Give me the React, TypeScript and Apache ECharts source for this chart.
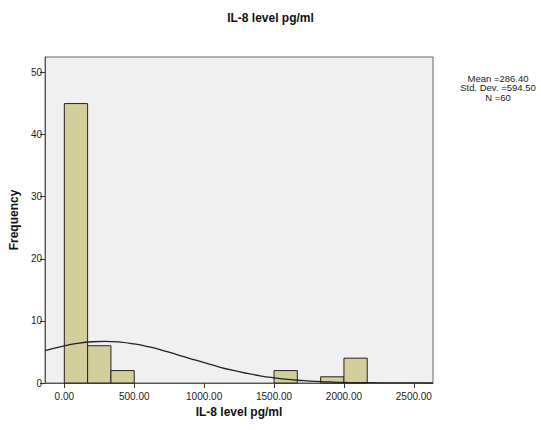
import React, { useEffect, useRef } from "react";
import * as echarts from "echarts";

const title = "IL-8 level pg/ml";
const xTitle = "IL-8 level pg/ml";
const yTitle = "Frequency";
// histogram bins: [start, end, count]
const binStarts = [0, 166.67, 333.33, 1500, 1833.33, 2000];
const binEnds = [166.67, 333.33, 500, 1666.67, 2000, 2166.67];
const binCounts = [45, 6, 2, 2, 1, 4];
// normal curve points
const curveX = [-138, 0, 100, 200, 286, 400, 500, 600, 700, 800, 900, 1000, 1100, 1200, 1300, 1400, 1500, 1600, 1700, 1800, 1900, 2000, 2100, 2200, 2300, 2400, 2500, 2637];
const curveY = [5.2, 5.98, 6.39, 6.64, 6.71, 6.59, 6.29, 5.84, 5.27, 4.62, 3.94, 3.27, 2.63, 2.06, 1.57, 1.16, 0.84, 0.58, 0.4, 0.26, 0.17, 0.1, 0.06, 0.04, 0.02, 0.01, 0.006, 0.003];
const xTicks = [0, 500, 1000, 1500, 2000, 2500];
const yTicks = [0, 10, 20, 30, 40, 50];
const statsLines = ["Mean =286.40", "Std. Dev. =594.50", "N =60"];

export default function App() {
  const ref = useRef<HTMLDivElement>(null);
  useEffect(() => {
    document.body.style.margin = "0";
    const chart = echarts.init(ref.current!, null, { renderer: "svg" });
    const font = "Liberation Sans, Arial, sans-serif";
    const bins = binStarts.map((s, i) => [s, binEnds[i], binCounts[i]]);
    chart.setOption({
      animation: false,
      backgroundColor: "#ffffff",
      title: {
        text: title,
        left: "center",
        top: 7,
        textStyle: { fontFamily: font, fontSize: 12, fontWeight: "bold", color: "#111" },
      },
      grid: {
        left: 45,
        right: 108,
        top: 57,
        bottom: 47,
        show: true,
        backgroundColor: "#f0f0f0",
        borderColor: "#666",
        borderWidth: 1,
      },
      xAxis: {
        type: "value",
        min: -138,
        max: 2637,
        name: xTitle,
        nameLocation: "middle",
        nameGap: 18,
        nameTextStyle: { fontFamily: font, fontSize: 12, fontWeight: "bold", color: "#111" },
        axisLine: { show: true, onZero: false, lineStyle: { color: "#555" } },
        axisTick: { show: true, length: 5, customValues: xTicks, lineStyle: { color: "#333" } },
        axisLabel: {
          customValues: xTicks,
          formatter: (v: number) => v.toFixed(2),
          fontFamily: font,
          fontSize: 10,
          color: "#222",
          margin: 8,
        },
        splitLine: { show: false },
      },
      yAxis: {
        type: "value",
        min: 0,
        max: 52.5,
        name: yTitle,
        nameLocation: "middle",
        nameRotate: 90,
        nameGap: 19,
        nameTextStyle: { fontFamily: font, fontSize: 12, fontWeight: "bold", color: "#111" },
        axisLine: { show: true, onZero: false, lineStyle: { color: "#555" } },
        axisTick: { show: true, length: 5, customValues: yTicks, lineStyle: { color: "#333" } },
        axisLabel: {
          customValues: yTicks,
          fontFamily: font,
          fontSize: 10,
          color: "#222",
          margin: 3,
        },
        splitLine: { show: false },
      },
      graphic: statsLines.map((line, i) => ({
        type: "text",
        x: 498,
        y: 73 + i * 9.5,
        style: {
          text: line,
          fontFamily: font,
          fontSize: 9.5,
          fill: "#222",
          align: "center",
          verticalAlign: "top",
        },
      })),
      series: [
        {
          type: "custom",
          data: bins,
          encode: { x: [0, 1], y: 2 },
          renderItem: (params: any, api: any) => {
            const p0 = api.coord([api.value(0), 0]);
            const p1 = api.coord([api.value(1), api.value(2)]);
            return {
              type: "rect",
              shape: { x: p0[0], y: p1[1], width: p1[0] - p0[0], height: p0[1] - p1[1] },
              style: { fill: "#d3cf9b", stroke: "#222", lineWidth: 1 },
            };
          },
        },
        {
          type: "line",
          data: curveX.map((x, i) => [x, curveY[i]]),
          smooth: true,
          showSymbol: false,
          lineStyle: { color: "#222", width: 1.3 },
          z: 5,
        },
      ],
    });
    return () => chart.dispose();
  }, []);
  return <div ref={ref} style={{ width: 541, height: 430 }} />;
}
